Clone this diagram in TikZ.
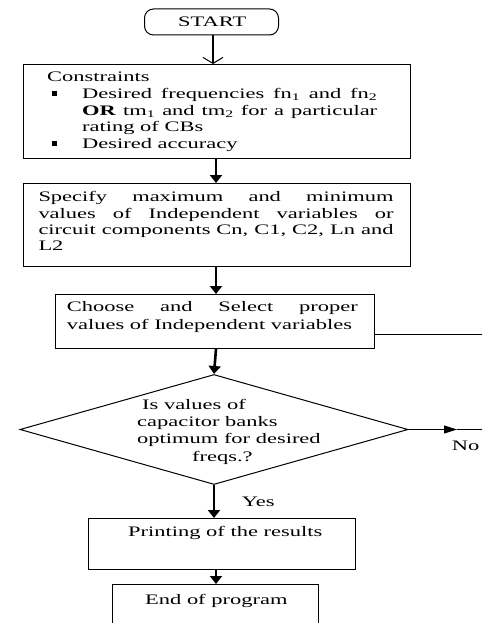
\documentclass[tikz,border=0pt]{standalone}
\usepackage{fontspec}
\setmainfont{Liberation Serif}[FakeStretch=1.55]
\usetikzlibrary{arrows.meta,shapes.geometric}
\newcommand{\bul}{\rule[2.5pt]{4.5pt}{4.5pt}}
\tikzset{
  box/.style={draw, line width=1pt, rectangle, inner sep=0pt, anchor=north west},
  txt/.style={inner sep=0pt, anchor=base west, font=\fontsize{14.5}{16.65}\selectfont},
  flow/.style={line width=2.6pt, -{Triangle[length=8pt,width=12pt]}},
  thin/.style={line width=1pt},
}
\begin{document}
\begin{tikzpicture}[x=1pt,y=-1pt]
\useasboundingbox (0,0) rectangle (482,623);
\clip (0,0) rectangle (482,623);
% START
\node[box, rounded corners=9pt, minimum width=134pt, minimum height=26pt] (start) at (144,8.5) {};
\node[txt] (startt) at (178,26.7) {START};
% Constraints
\node[box, minimum width=387pt, minimum height=94pt] (con) at (23,64) {};
\node[txt] (cont) at (47,81.7) {\parbox[t]{330pt}{\setlength\parindent{0pt}\baselineskip=16.65pt
Constraints\par
\leftskip=35pt
\leavevmode\llap{\makebox[30pt][l]{\bul}}Desired frequencies fn\textsubscript{1} and fn\textsubscript{2}\linebreak
\textbf{OR} tm\textsubscript{1} and tm\textsubscript{2} for a particular\linebreak
rating of CBs\par
\leavevmode\llap{\makebox[30pt][l]{\bul}}Desired accuracy\par}};
% Specify
\node[box, minimum width=387pt, minimum height=83pt] (spec) at (23,183) {};
\node[txt] (spect) at (38.3,201.7) {\parbox[t]{355pt}{\setlength\parindent{0pt}\baselineskip=16.4pt
Specify maximum and minimum\linebreak
values of Independent variables or\linebreak
circuit components Cn, C1, C2, Ln and\linebreak
L2\par}};
% Choose
\node[box, minimum width=319.3pt, minimum height=54pt] (cho) at (55,294) {};
\node[txt] (chot) at (66.7,311.7) {\parbox[t]{291pt}{\setlength\parindent{0pt}\baselineskip=17.3pt
Choose and Select proper\linebreak
values of Independent variables\par}};
% Decision
\node[draw, thin, diamond, inner sep=0pt, minimum width=388pt, minimum height=110pt] (dec) at (214,429.5) {};
\node[txt] (dect) at (137,409.3) {\parbox[t]{200pt}{\raggedright\setlength\parindent{0pt}\baselineskip=17.3pt
\hspace*{5pt}Is values of\\
capacitor banks\\
optimum for desired\\
\hspace*{55pt}freqs.?\par}};
% Printing
\node[box, minimum width=267pt, minimum height=51pt] (prn) at (88,518) {};
\node[txt] (prnt) at (128,536.7) {Printing of the results};
% End
\node[box, minimum width=206pt, minimum height=60pt] (fin) at (112,584) {};
\node[txt] (fint) at (145,604.3) {End of program};
% labels
\node[txt] (yes) at (241.7,506.7) {Yes};
\node[txt] (no) at (451.7,450) {No};
% arrow x
\coordinate (ax) at (216,0);
\coordinate (sx) at (213,0);
% connectors
\draw[line width=2.4pt, -{Straight Barb[length=6pt,width=20pt,line width=1pt]}] (start.south -| sx) -- (con.north -| sx);
\draw[flow] (con.south -| ax) -- (spec.north -| ax);
\draw[flow] (spec.south -| ax) -- (cho.north -| ax);
\draw[flow] (cho.south -| ax) -- (dec.north);
\draw[flow] (dec.south) -- (prn.north -| dec.south);
\draw[flow] (prn.south -| ax) -- (fin.north -| ax);
\coordinate (chor) at (374.3,334);
\coordinate (chorend) at (483,334);
\draw[thin] (chor) -- (chorend);
\coordinate (notip) at (457,429.5);
\coordinate (noend) at (483,429.5);
\draw[thin, -{Triangle[length=13pt,width=8pt]}] (dec.east) -- (notip);
\draw[thin] (notip) -- (noend);
\end{tikzpicture}
\end{document}
